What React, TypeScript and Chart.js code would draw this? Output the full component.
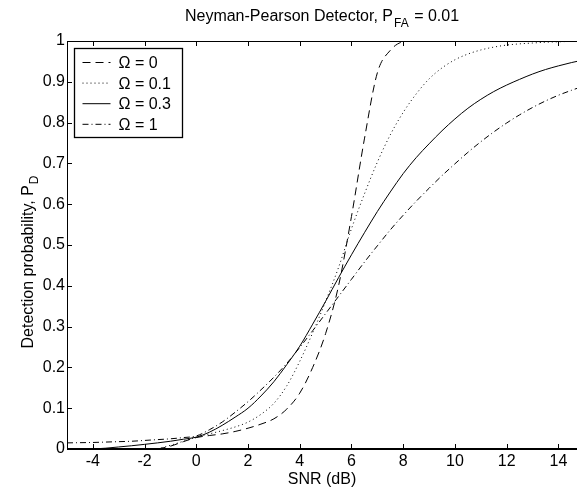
import React, { useEffect, useRef } from "react";
import { Chart, registerables } from "chart.js";

Chart.register(...registerables);

// ---------- data ----------
const snrDb = [
  -5, -4.5, -4, -3.5, -3, -2.5, -2, -1.5, -1, -0.5, 0, 0.5, 1, 1.5, 2, 2.5, 3, 3.5, 4, 4.5,
  5, 5.5, 6, 6.5, 7, 7.5, 8, 8.5, 9, 9.5, 10, 10.5, 11, 11.5, 12, 12.5, 13, 13.5, 14, 14.5, 15,
];

const pdOmega0 = [
  null, null, null, null, null, null, null, 0.0, 0.007, 0.018, 0.028, 0.033, 0.037, 0.043, 0.051, 0.061, 0.074, 0.098, 0.137, 0.2,
  0.283, 0.4, 0.57, 0.76, 0.922, 0.977, 0.998, 1, 1, 1, 1, 1, 1, 1, 1, 1, 1, 1, 1, 1, 1,
];

const pdOmega01 = [
  null, null, null, null, null, null, null, 0.0, 0.009, 0.019, 0.029, 0.037, 0.045, 0.054, 0.066, 0.085, 0.112, 0.155, 0.215, 0.285,
  0.362, 0.445, 0.54, 0.625, 0.703, 0.77, 0.825, 0.87, 0.907, 0.934, 0.954, 0.968, 0.978, 0.985, 0.99, 0.993, 0.995, 0.997, 0.998, 0.999, 0.999,
];

const pdOmega03 = [
  null, null, 0.0, 0.002, 0.005, 0.008, 0.0114, 0.015, 0.019, 0.024, 0.029, 0.041, 0.058, 0.078, 0.1, 0.13, 0.165, 0.207, 0.252, 0.306,
  0.362, 0.42, 0.476, 0.53, 0.582, 0.63, 0.675, 0.714, 0.748, 0.78, 0.809, 0.835, 0.857, 0.876, 0.892, 0.906, 0.919, 0.93, 0.939, 0.947, 0.954,
];

const pdOmega1 = [
  0.015, 0.0155, 0.016, 0.017, 0.018, 0.019, 0.021, 0.023, 0.025, 0.028, 0.032, 0.047, 0.066, 0.09, 0.116, 0.145, 0.176, 0.21, 0.249, 0.29,
  0.332, 0.374, 0.416, 0.458, 0.498, 0.537, 0.573, 0.607, 0.639, 0.67, 0.699, 0.727, 0.753, 0.777, 0.799, 0.819, 0.837, 0.853, 0.867, 0.879, 0.89,
];

const seriesLabels = ["Ω = 0", "Ω = 0.1", "Ω = 0.3", "Ω = 1"];
const xTickValues = [-4, -2, 0, 2, 4, 6, 8, 10, 12, 14];
const yTickValues = [0, 0.1, 0.2, 0.3, 0.4, 0.5, 0.6, 0.7, 0.8, 0.9, 1];
const yTickLabels = ["0", "0.1", "0.2", "0.3", "0.4", "0.5", "0.6", "0.7", "0.8", "0.9", "1"];
const xMin = -5;
const xMax = 14.72;

const titleMain = "Neyman-Pearson Detector, P";
const titleSub = "FA";
const titleTail = " = 0.01";
const yLabelMain = "Detection probability, P";
const yLabelSub = "D";
const xLabel = "SNR (dB)";

// ---------- styles ----------
const FONT = '"Liberation Sans", Arial, Helvetica, sans-serif';
const DASHES = [[8, 5], [1, 3], [], [6, 3, 1, 3]];

function toPoints(ys: (number | null)[]) {
  return snrDb.map((x, i) => ({ x, y: ys[i] }));
}

const decorPlugin = {
  id: "decor",
  afterDatasetsDraw(chart: any) {
    const { ctx, chartArea: ca, scales } = chart;
    const xs = scales.x;
    const ys = scales.y;
    ctx.save();
    ctx.strokeStyle = "#000";
    ctx.fillStyle = "#000";

    // axes lines
    ctx.lineWidth = 1;
    ctx.beginPath();
    ctx.moveTo(ca.left + 0.5, ca.top);
    ctx.lineTo(ca.left + 0.5, ca.bottom);
    ctx.moveTo(ca.left, ca.top + 0.5);
    ctx.lineTo(ca.right, ca.top + 0.5);
    ctx.stroke();
    ctx.lineWidth = 2;
    ctx.beginPath();
    ctx.moveTo(ca.left, ca.bottom);
    ctx.lineTo(ca.right, ca.bottom);
    ctx.stroke();

    // inward ticks
    ctx.lineWidth = 1;
    ctx.beginPath();
    xTickValues.forEach((v) => {
      const px = Math.round(xs.getPixelForValue(v)) + 0.5;
      ctx.moveTo(px, ca.bottom);
      ctx.lineTo(px, ca.bottom - 5);
      ctx.moveTo(px, ca.top);
      ctx.lineTo(px, ca.top + 5);
    });
    yTickValues.forEach((v) => {
      const py = Math.round(ys.getPixelForValue(v)) + 0.5;
      ctx.moveTo(ca.left, py);
      ctx.lineTo(ca.left + 5, py);
    });
    ctx.stroke();

    // legend
    const bx = ca.left + 7.5;
    const by = ca.top + 7.5;
    const bw = 108;
    const bh = 89;
    ctx.fillStyle = "#fff";
    ctx.fillRect(bx, by, bw, bh);
    ctx.strokeStyle = "#000";
    ctx.lineWidth = 1.3;
    ctx.strokeRect(bx, by, bw, bh);
    ctx.font = `16px ${FONT}`;
    ctx.textBaseline = "middle";
    ctx.textAlign = "left";
    chart.data.datasets.forEach((ds: any, i: number) => {
      const ly = by + 14 + i * 20.6;
      ctx.save();
      ctx.lineWidth = 1;
      ctx.strokeStyle = ds.borderColor;
      ctx.setLineDash(ds.borderDash || []);
      ctx.beginPath();
      ctx.moveTo(bx + 8, ly);
      ctx.lineTo(bx + 36, ly);
      ctx.stroke();
      ctx.restore();
      ctx.fillStyle = "#000";
      ctx.fillText(ds.label, bx + 44, ly + 1);
    });

    // title with subscript
    const cx = (ca.left + ca.right) / 2;
    ctx.textBaseline = "alphabetic";
    ctx.font = `16px ${FONT}`;
    const w1 = ctx.measureText(titleMain).width;
    const w3 = ctx.measureText(titleTail).width;
    ctx.font = `12px ${FONT}`;
    const w2 = ctx.measureText(titleSub).width + 2;
    const tw = w1 + w2 + w3;
    const tx = cx - tw / 2;
    ctx.fillStyle = "#000";
    ctx.font = `16px ${FONT}`;
    ctx.fillText(titleMain, tx, 21);
    ctx.font = `12px ${FONT}`;
    ctx.fillText(titleSub, tx + w1 + 1, 27);
    ctx.font = `16px ${FONT}`;
    ctx.fillText(titleTail, tx + w1 + w2, 21);

    // x label
    ctx.textAlign = "center";
    ctx.fillText(xLabel, cx, 484);

    // y label with subscript (rotated)
    ctx.font = `16px ${FONT}`;
    const yw1 = ctx.measureText(yLabelMain).width;
    ctx.font = `12px ${FONT}`;
    const yw2 = ctx.measureText(yLabelSub).width;
    const ytw = yw1 + yw2 + 1;
    const cy = 262;
    ctx.save();
    ctx.translate(33, cy);
    ctx.rotate(-Math.PI / 2);
    ctx.textAlign = "left";
    ctx.font = `16px ${FONT}`;
    ctx.fillText(yLabelMain, -ytw / 2, 0);
    ctx.font = `12px ${FONT}`;
    ctx.fillText(yLabelSub, -ytw / 2 + yw1 + 1, 5);
    ctx.restore();

    ctx.restore();
  },
};

export default function App() {
  const canvasRef = useRef<HTMLCanvasElement | null>(null);

  useEffect(() => {
    if (!canvasRef.current) return;
    const allSeries = [pdOmega0, pdOmega01, pdOmega03, pdOmega1];
    const chart = new Chart(canvasRef.current, {
      type: "line",
      data: {
        datasets: allSeries.map((s, i) => ({
          label: seriesLabels[i],
          data: toPoints(s),
          borderColor: "#000",
          borderWidth: 1,
          borderDash: DASHES[i],
          pointRadius: 0,
          fill: false,
          cubicInterpolationMode: "monotone",
          spanGaps: false,
        })),
      },
      options: {
        animation: false,
        responsive: false,
        events: [],
        layout: { padding: { top: 41, right: 0, left: 0, bottom: 0 } },
        plugins: {
          legend: { display: false },
          title: { display: false },
          tooltip: { enabled: false },
        },
        scales: {
          x: {
            type: "linear",
            min: xMin,
            max: xMax,
            grid: { display: false, drawTicks: false },
            border: { display: false },
            afterBuildTicks: (scale: any) => {
              scale.ticks = xTickValues.map((v) => ({ value: v }));
            },
            afterFit: (scale: any) => {
              scale.height = 44;
            },
            ticks: {
              padding: 3,
              maxRotation: 0,
              autoSkip: false,
              color: "#000",
              font: { family: FONT, size: 16 },
              callback: (v: any) => String(v),
            },
          },
          y: {
            type: "linear",
            min: 0,
            max: 1,
            grid: { display: false, drawTicks: false },
            border: { display: false },
            afterBuildTicks: (scale: any) => {
              scale.ticks = yTickValues.map((v) => ({ value: v }));
            },
            afterFit: (scale: any) => {
              scale.width = 67;
            },
            ticks: {
              padding: 2,
              autoSkip: false,
              color: "#000",
              font: { family: FONT, size: 16 },
              callback: (v: any) => {
                const idx = yTickValues.findIndex((t) => Math.abs(t - v) < 1e-9);
                return idx >= 0 ? yTickLabels[idx] : "";
              },
            },
          },
        },
      },
      plugins: [decorPlugin],
    } as any);
    return () => chart.destroy();
  }, []);

  return (
    <div style={{ position: "absolute", left: 0, top: 0, width: 577, height: 493, background: "#fff" }}>
      <canvas ref={canvasRef} width={577} height={493} style={{ display: "block" }} />
    </div>
  );
}
